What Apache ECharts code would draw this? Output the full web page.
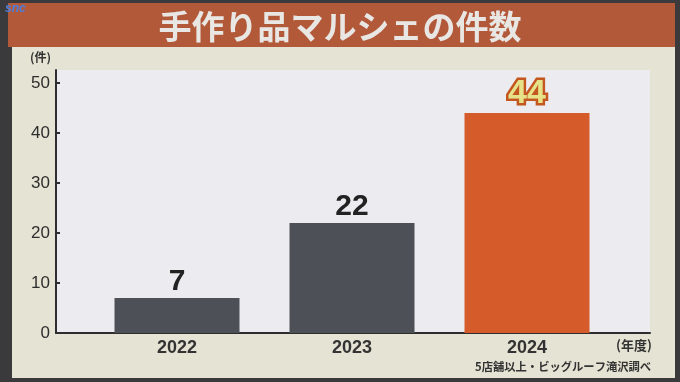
<!DOCTYPE html>
<html>
<head>
<meta charset="utf-8">
<script src="https://cdn.jsdelivr.net/npm/echarts@6/dist/echarts.min.js"></script>
<style>
html,body{margin:0;padding:0;background:#3a3a3c;}
#c{width:680px;height:382px;}
</style>
</head>
<body>
<div id="c"></div>
<script>
const categories = ['2022', '2023', '2024'];
const counts = [7, 22, 44];
const yTicks = [0, 10, 20, 30, 40, 50];
const titleText = '手作り品マルシェの件数';
const yUnit = '(件)';
const xUnit = '(年度)';
const sourceText = '5店舗以上・ビッグルーフ滝沢調べ';

const barColors = ['#4e5057', '#4e5057', '#d65b2a'];
const numFont = '"Liberation Sans", Arial, sans-serif';
const jpFont = '"Noto Sans CJK JP", sans-serif';
const yMax = 52.6;

const chart = echarts.init(document.getElementById('c'), null, {renderer: 'canvas'});
chart.setOption({
  backgroundColor: '#3a3a3c',
  animation: false,
  graphic: [
    {type: 'rect', z: -10, shape: {x: 12, y: 46, width: 663, height: 332}, style: {fill: '#e5e3d3'}},
    {type: 'rect', z: -10, shape: {x: 8, y: 3, width: 667, height: 44}, style: {fill: '#b2593a'}},
    {type: 'text', left: 'center', top: 10, style: {text: titleText, font: 'bold 33px ' + jpFont, fill: '#e9e7e4'}},
    {type: 'text', left: 5, top: 3, style: {text: 'snc', font: 'italic bold 12px ' + numFont, fill: '#4a7fe0'}},
    {type: 'text', left: 30, top: 51, style: {text: yUnit, font: 'bold 12px ' + jpFont, fill: '#333'}},
    {type: 'text', left: 616, top: 339, style: {text: xUnit, font: 'bold 13px ' + jpFont, fill: '#333'}},
    {type: 'text', left: 475, top: 361, style: {text: sourceText, font: 'bold 11.3px ' + jpFont, fill: '#333'}}
  ],
  grid: [
    {left: 56, right: 30, top: 70, bottom: 49, show: true, backgroundColor: '#ececf0', borderWidth: 0},
    {left: 89.5, right: 65.5, top: 70, bottom: 49}
  ],
  xAxis: [
    {gridIndex: 0, type: 'category', data: [''], axisLine: {show: true, lineStyle: {color: '#2e2e30', width: 2}},
     axisTick: {show: false}, axisLabel: {show: false}},
    {gridIndex: 1, type: 'category', data: categories, axisLine: {show: false}, axisTick: {show: false},
     axisLabel: {fontSize: 18, fontWeight: 'bold', color: '#333', fontFamily: numFont, margin: 6}}
  ],
  yAxis: [
    {gridIndex: 0, type: 'value', min: 0, max: yMax, interval: 10,
     axisLine: {show: true, lineStyle: {color: '#2e2e30', width: 2}},
     axisTick: {show: true, inside: true, length: 4, customValues: yTicks, lineStyle: {color: '#2e2e30', width: 2}},
     axisLabel: {customValues: yTicks, fontSize: 17, color: '#2e2e2e', fontFamily: numFont, margin: 6},
     splitLine: {show: false}},
    {gridIndex: 1, type: 'value', min: 0, max: yMax, show: false, splitLine: {show: false}}
  ],
  series: [{
    type: 'bar',
    xAxisIndex: 1,
    yAxisIndex: 1,
    barWidth: 125,
    data: counts.map((v, i) => ({
      value: v,
      itemStyle: {color: barColors[i]},
      label: i === 2 ? {
        color: '#e6e28a', fontSize: 34, fontWeight: 900, fontFamily: numFont,
        textBorderColor: '#c4561f', textBorderWidth: 5, distance: 2
      } : {}
    })),
    label: {show: true, position: 'top', fontSize: 30, fontWeight: 'bold', color: '#222', fontFamily: numFont, distance: 1}
  }]
});
</script>
</body>
</html>
